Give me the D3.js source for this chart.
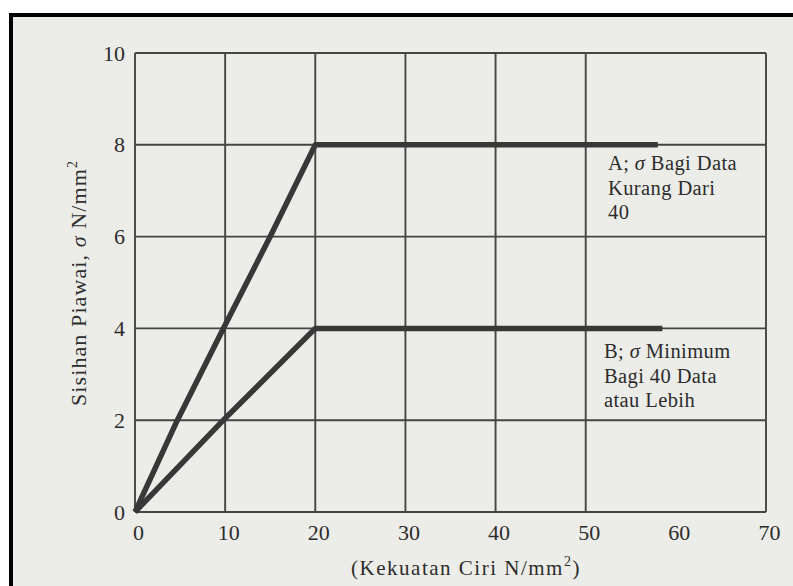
<!DOCTYPE html>
<html>
<head>
<meta charset="utf-8">
<script src="https://cdn.jsdelivr.net/npm/d3@7"></script>
<style>
  html, body { margin: 0; padding: 0; background: #ffffff; }
  svg { display: block; }
  text { font-family: "Liberation Serif", "DejaVu Serif", serif; fill: #2c2c2c; }
</style>
</head>
<body>
<svg id="chart" width="793" height="586"></svg>
<script>
// Curve A: σ for fewer than 40 results (x = characteristic strength, y = σ)
const curveA = [[0, 0], [4.7, 2], [9.8, 4], [15, 6], [20, 8], [58, 8]];
// Curve B: minimum σ for 40 results or more
const curveB = [[0, 0], [9.8, 2], [20, 4], [58.5, 4]];

const xTicks = [0, 10, 20, 30, 40, 50, 60, 70];
const yTicks = [0, 2, 4, 6, 8, 10];
const xGridValues = [0, 10, 20, 30, 40, 50, 70];
const yGridValues = [0, 2, 4, 6, 8, 10];

const labelA = ["A; σ Bagi Data", "Kurang Dari", "40"];
const labelB = ["B; σ Minimum", "Bagi 40 Data", "atau Lebih"];

const svg = d3.select("#chart");

// page background and frame
svg.append("rect").attr("x", 0).attr("y", 0).attr("width", 793).attr("height", 586).attr("fill", "#ffffff");
svg.append("rect").attr("x", 11).attr("y", 15).attr("width", 782).attr("height", 571).attr("fill", "#ecece9");
svg.append("line").attr("x1", 9).attr("x2", 793).attr("y1", 15).attr("y2", 15)
  .attr("stroke", "#000").attr("stroke-width", 4);
svg.append("line").attr("x1", 11).attr("x2", 11).attr("y1", 13).attr("y2", 586)
  .attr("stroke", "#000").attr("stroke-width", 4);

const x = d3.scaleLinear().domain([0, 70]).range([135, 766]);
const y = d3.scaleLinear().domain([0, 10]).range([512, 53]);

// grid
const grid = svg.append("g").attr("stroke", "#454545").attr("stroke-width", 1.9);
grid.selectAll("line.v").data(xGridValues).join("line").attr("class", "v")
  .attr("x1", d => x(d)).attr("x2", d => x(d))
  .attr("y1", y(0)).attr("y2", y(10));
grid.selectAll("line.h").data(yGridValues).join("line").attr("class", "h")
  .attr("x1", x(0)).attr("x2", x(70))
  .attr("y1", d => y(d)).attr("y2", d => y(d));

// axes (labels only)
const xAxis = svg.append("g").attr("transform", `translate(3,${y(0)})`)
  .call(d3.axisBottom(x).tickValues(xTicks).tickSize(0).tickPadding(12).tickFormat(d3.format("d")));
xAxis.select(".domain").remove();
xAxis.selectAll("text").style("font-size", "22px").style("font-family", "Liberation Serif").attr("fill", "#2c2c2c");

const yAxis = svg.append("g").attr("transform", `translate(${x(0)},0)`)
  .call(d3.axisLeft(y).tickValues(yTicks).tickSize(0).tickPadding(10).tickFormat(d3.format("d")));
yAxis.select(".domain").remove();
yAxis.selectAll("text").style("font-size", "22px").style("font-family", "Liberation Serif").attr("fill", "#2c2c2c");

// curves
const line = d3.line().x(d => x(d[0])).y(d => y(d[1]));
[curveA, curveB].forEach(c => {
  svg.append("path").datum(c).attr("d", line)
    .attr("fill", "none").attr("stroke", "#383838")
    .attr("stroke-width", 5.5).attr("stroke-linejoin", "round").attr("stroke-linecap", "butt");
});

// curve annotations
function block(lines, x0, y0) {
  const t = svg.append("text").attr("x", x0).attr("y", y0)
    .attr("font-size", 20.5).attr("letter-spacing", 0.4);
  lines.forEach((s, i) => {
    const ts = t.append("tspan").attr("x", x0).attr("dy", i === 0 ? 0 : 24.5);
    const parts = s.split("σ");
    parts.forEach((p, j) => {
      if (j > 0) ts.append("tspan").attr("font-style", "italic").text("σ");
      ts.append("tspan").text(p);
    });
  });
}
block(labelA, 608, 170);
block(labelB, 604, 358);

// axis titles
const xt = svg.append("text").attr("x", 466).attr("y", 575).attr("text-anchor", "middle")
  .attr("font-size", 21).attr("letter-spacing", 1.5);
xt.append("tspan").text("(Kekuatan Ciri N/mm");
xt.append("tspan").attr("font-size", 14).attr("dy", -9).text("2");
xt.append("tspan").attr("dy", 9).text(")");

const yt = svg.append("text").attr("transform", "translate(86,283) rotate(-90)")
  .attr("text-anchor", "middle").attr("font-size", 22).attr("letter-spacing", 1.1);
yt.append("tspan").text("Sisihan Piawai, ");
yt.append("tspan").attr("font-style", "italic").text("σ");
yt.append("tspan").text(" N/mm");
yt.append("tspan").attr("font-size", 14).attr("dy", -9).text("2");
</script>
</body>
</html>
